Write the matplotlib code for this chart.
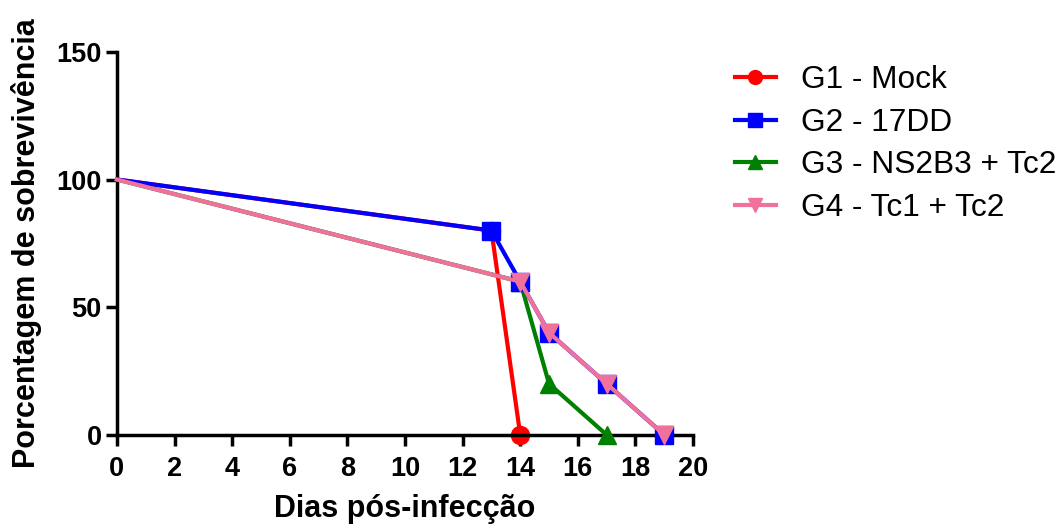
import numpy as np
import matplotlib.pyplot as plt

# Survival data (days post-infection, % survival)
g1_days = [0, 13, 14]
g1_surv = [100, 80, 0]
g2_days = [0, 13, 14, 15, 17, 19]
g2_surv = [100, 80, 60, 40, 20, 0]
g3_days = [0, 14, 15, 17]
g3_surv = [100, 60, 20, 0]
g4_days = [0, 14, 15, 17, 19]
g4_surv = [100, 60, 40, 20, 0]

labels = ['G1 - Mock', 'G2 - 17DD', 'G3 - NS2B3 + Tc2', 'G4 - Tc1 + Tc2']

plt.rcParams['font.family'] = ['Liberation Sans', 'DejaVu Sans']

fig = plt.figure(figsize=(10.63, 5.29), dpi=100)
ax = fig.add_axes([0.110, 0.178, 0.542, 0.724])

series = [
    (g1_days, g1_surv, '#ff0000', 'o', 13, 2),
    (g2_days, g2_surv, '#0000ff', 's', 13, 4),
    (g3_days, g3_surv, '#008000', '^', 13, 3),
    (g4_days, g4_surv, '#f0729c', 'v', 13, 5),
]

handles = []
for (d, s, c, m, ms, z), lab in zip(series, labels):
    ax.plot(d, s, color=c, lw=3, zorder=z, clip_on=False)
    ax.plot(d[1:], s[1:], ls='none', marker=m, ms=ms, color=c, zorder=z, clip_on=False)
    h, = ax.plot([], [], color=c, lw=3, marker=m, ms=10, label=lab)
    handles.append(h)

ax.set_xlim(0, 20)
ax.set_ylim(0, 150)
ax.set_xticks(np.arange(0, 21, 2))
ax.set_yticks([0, 50, 100, 150])

for sp in ['top', 'right']:
    ax.spines[sp].set_visible(False)
for sp in ['left', 'bottom']:
    ax.spines[sp].set_linewidth(2.5)

ax.tick_params(axis='both', direction='out', length=8, width=2.5, labelsize=19.5)
ax.tick_params(axis='x', pad=7)
ax.tick_params(axis='y', pad=3)
for t in ax.get_xticklabels() + ax.get_yticklabels():
    t.set_fontweight('bold')

ax.set_xlabel('Dias pós-infecção', fontsize=22, fontweight='bold', labelpad=9)
ax.set_ylabel('Porcentagem de sobrevivência', fontsize=22, fontweight='bold', labelpad=10)

fig.legend(handles=handles, loc='upper left', bbox_to_anchor=(0.691, 0.877),
           frameon=False, fontsize=22.8, handlelength=1.3, labelspacing=0.4,
           handletextpad=0.8, borderpad=0, borderaxespad=0)

fig.savefig('out.png', dpi=100)
